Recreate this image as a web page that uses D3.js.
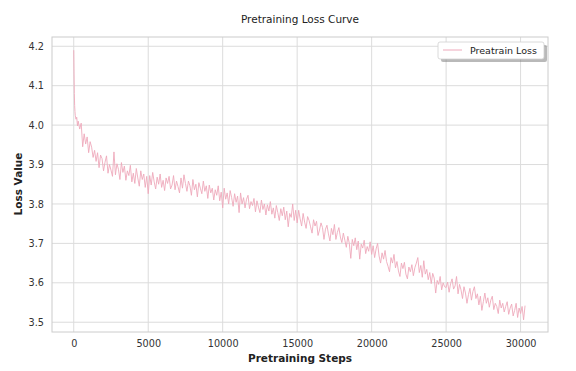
<!DOCTYPE html>
<html>
<head>
<meta charset="utf-8">
<script src="https://cdn.jsdelivr.net/npm/d3@7"></script>
<style>
  html, body { margin: 0; padding: 0; background: #fff; }
  svg { display: block; font-family: "DejaVu Sans", sans-serif; }
</style>
</head>
<body>
<svg id="chart" width="576" height="371"></svg>
<script>
// logging interval of the pretraining run (steps between loss records)
const LOG_EVERY = 100;

// first few records, logged more often during warm-up
const warmupSteps = [0, 20, 40, 60, 80, 100, 150, 200, 250];
const warmupLoss = [4.19, 4.13, 4.08, 4.05, 4.035, 4.025, 4.015, 4.02, 3.998];

// regular records, each block starts at the given step
const lossA = [ // from 300
  4.010, 3.990, 4.005, 3.945, 3.978, 3.952, 3.970,
  3.930, 3.958, 3.944, 3.918, 3.936, 3.908, 3.930, 3.892, 3.924, 3.915,
  3.884, 3.906, 3.922, 3.878, 3.900, 3.886, 3.870, 3.932, 3.874, 3.902,
  3.888, 3.862, 3.905, 3.880, 3.896, 3.860, 3.884, 3.872, 3.898, 3.856,
  3.878, 3.852, 3.890, 3.866, 3.845, 3.884, 3.862, 3.876, 3.842, 3.870
];
const lossB = [ // from 5000
  3.826, 3.872, 3.848, 3.880, 3.856, 3.838, 3.868, 3.850, 3.876, 3.842,
  3.860, 3.834, 3.866, 3.852, 3.870, 3.838, 3.848, 3.872, 3.836, 3.858,
  3.844, 3.828, 3.866, 3.840, 3.874, 3.852, 3.832, 3.858, 3.846, 3.822,
  3.862, 3.836, 3.850, 3.818, 3.854, 3.840, 3.826, 3.858, 3.832, 3.846,
  3.814, 3.848, 3.828, 3.840, 3.810, 3.836, 3.822, 3.846, 3.808, 3.830
];
const lossC = [ // from 10000
  3.790, 3.840, 3.812, 3.828, 3.800, 3.834, 3.816, 3.794, 3.826, 3.804,
  3.820, 3.778, 3.828, 3.800, 3.816, 3.790, 3.812, 3.822, 3.788, 3.806,
  3.796, 3.814, 3.780, 3.808, 3.792, 3.778, 3.810, 3.786, 3.800, 3.772,
  3.798, 3.782, 3.806, 3.774, 3.790, 3.764, 3.796, 3.778, 3.758, 3.788,
  3.770, 3.792, 3.760, 3.782, 3.742, 3.776, 3.766, 3.800, 3.758, 3.784
];
const lossD = [ // from 15000
  3.752, 3.784, 3.762, 3.744, 3.776, 3.754, 3.738, 3.768, 3.758, 3.742,
  3.726, 3.760, 3.744, 3.756, 3.720, 3.734, 3.752, 3.740, 3.710, 3.736,
  3.746, 3.724, 3.706, 3.738, 3.722, 3.748, 3.710, 3.728, 3.740, 3.716,
  3.702, 3.726, 3.708, 3.690, 3.718, 3.700, 3.662, 3.710, 3.694, 3.714,
  3.684, 3.706, 3.660, 3.698, 3.688, 3.708, 3.674, 3.692, 3.680, 3.704
];
const lossE = [ // from 20000
  3.672, 3.694, 3.664, 3.686, 3.700, 3.668, 3.650, 3.676, 3.660, 3.682,
  3.654, 3.642, 3.628, 3.664, 3.650, 3.672, 3.638, 3.654, 3.630, 3.616,
  3.650, 3.636, 3.652, 3.622, 3.610, 3.640, 3.628, 3.646, 3.618, 3.638,
  3.650, 3.664, 3.626, 3.644, 3.614, 3.656, 3.622, 3.634, 3.608, 3.626,
  3.598, 3.624, 3.612, 3.574, 3.606, 3.596, 3.616, 3.582, 3.600, 3.590
];
const lossF = [ // from 25000
  3.588, 3.602, 3.576, 3.598, 3.610, 3.584, 3.592, 3.616, 3.572, 3.596,
  3.582, 3.560, 3.590, 3.574, 3.548, 3.570, 3.586, 3.556, 3.578, 3.590,
  3.560, 3.572, 3.544, 3.566, 3.530, 3.552, 3.574, 3.548, 3.562, 3.538,
  3.556, 3.566, 3.532, 3.548, 3.540, 3.522, 3.556, 3.536, 3.548, 3.526,
  3.540, 3.552, 3.520, 3.536, 3.546, 3.516, 3.530, 3.548, 3.512, 3.536,
  3.522, 3.540, 3.506, 3.542
];
const blockStarts = [300, 5000, 10000, 15000, 20000, 25000];
const blocks = [lossA, lossB, lossC, lossD, lossE, lossF];

const xTicks = [0, 5000, 10000, 15000, 20000, 25000, 30000];
const yTicks = [3.5, 3.6, 3.7, 3.8, 3.9, 4.0, 4.1, 4.2];

// build the record list
const records = warmupSteps.map((s, i) => ({ step: s, loss: warmupLoss[i] }));
blocks.forEach((b, k) => {
  b.forEach((v, i) => records.push({ step: blockStarts[k] + i * LOG_EVERY, loss: v }));
});

const svg = d3.select('#chart');
const margin = { left: 52, right: 28, top: 37, bottom: 39 };
const W = 576, H = 371;

const x = d3.scaleLinear().domain([-1460, 31840]).range([margin.left, W - margin.right]);
const y = d3.scaleLinear().domain([3.4752, 4.2235]).range([H - margin.bottom, margin.top]);

const grid = svg.append('g');

// grid lines
grid.selectAll('.vgrid').data(xTicks).join('line')
  .attr('x1', d => x(d)).attr('x2', d => x(d))
  .attr('y1', margin.top).attr('y2', H - margin.bottom)
  .attr('stroke', '#dcdcdc').attr('stroke-width', 1);
grid.selectAll('.hgrid').data(yTicks).join('line')
  .attr('y1', d => y(d)).attr('y2', d => y(d))
  .attr('x1', margin.left).attr('x2', W - margin.right)
  .attr('stroke', '#dcdcdc').attr('stroke-width', 1);

// loss curve
const line = d3.line().x(d => x(d.step)).y(d => y(d.loss));
svg.append('path')
  .datum(records)
  .attr('d', line)
  .attr('fill', 'none')
  .attr('stroke', '#eea9bb')
  .attr('stroke-width', 0.9)
  .attr('stroke-linejoin', 'round');

// frame
svg.append('rect')
  .attr('x', margin.left).attr('y', margin.top)
  .attr('width', W - margin.left - margin.right)
  .attr('height', H - margin.top - margin.bottom)
  .attr('fill', 'none').attr('stroke', '#cccccc').attr('stroke-width', 1);

// axes (no tick marks, seaborn whitegrid look)
const xAxis = svg.append('g')
  .attr('transform', `translate(0,${H - margin.bottom})`)
  .call(d3.axisBottom(x).tickValues(xTicks).tickSize(0).tickPadding(8).tickFormat(d3.format('d')));
const yAxis = svg.append('g')
  .attr('transform', `translate(${margin.left},0)`)
  .call(d3.axisLeft(y).tickValues(yTicks).tickSize(0).tickPadding(8).tickFormat(d3.format('.1f')));
[xAxis, yAxis].forEach(a => {
  a.select('.domain').remove();
  a.selectAll('text').attr('fill', '#333').attr('font-size', '9.7px').attr('font-family', 'DejaVu Sans');
});

// title and labels
svg.append('text')
  .attr('x', 300).attr('y', 23)
  .attr('text-anchor', 'middle')
  .attr('font-size', '10.5px').attr('fill', '#222')
  .text('Pretraining Loss Curve');

svg.append('text')
  .attr('x', 300).attr('y', 362)
  .attr('text-anchor', 'middle')
  .attr('font-size', '10.5px').attr('font-weight', 'bold').attr('fill', '#222')
  .text('Pretraining Steps');

svg.append('text')
  .attr('transform', 'translate(22,184) rotate(-90)')
  .attr('text-anchor', 'middle')
  .attr('font-size', '10.5px').attr('font-weight', 'bold').attr('fill', '#222')
  .text('Loss Value');

// legend with drop shadow
const lg = svg.append('g').attr('transform', 'translate(438,42)');
lg.append('rect')
  .attr('x', 3).attr('y', 3).attr('width', 106).attr('height', 17).attr('rx', 2)
  .attr('fill', '#808080').attr('opacity', 0.55);
lg.append('rect')
  .attr('x', 0).attr('y', 0).attr('width', 106).attr('height', 17).attr('rx', 2)
  .attr('fill', '#fff').attr('stroke', '#d0d0d0').attr('stroke-width', 0.8);
lg.append('line')
  .attr('x1', 5).attr('x2', 24).attr('y1', 8).attr('y2', 8)
  .attr('stroke', '#eea9bb').attr('stroke-width', 1);
lg.append('text')
  .attr('x', 32).attr('y', 11.8)
  .attr('font-size', '9.5px').attr('fill', '#222')
  .text('Preatrain Loss');
</script>
</body>
</html>
